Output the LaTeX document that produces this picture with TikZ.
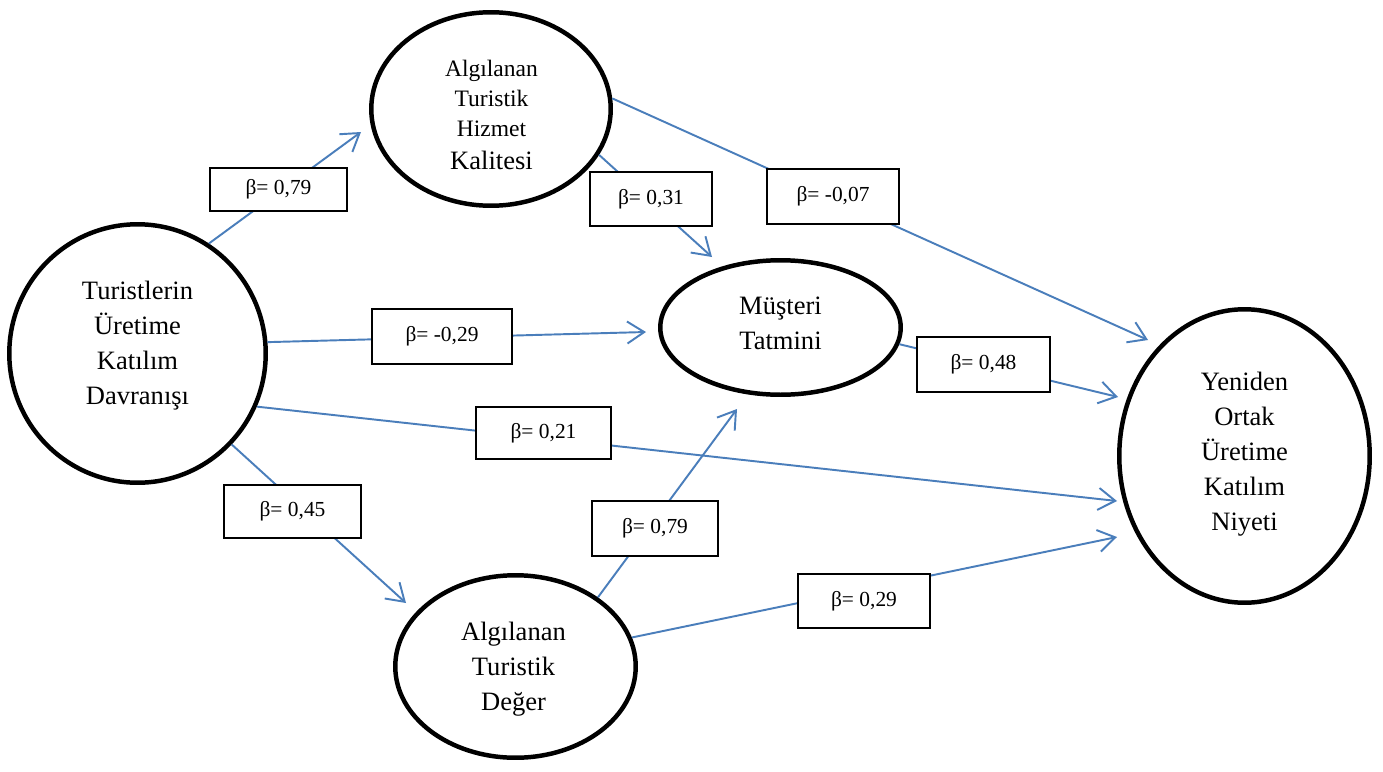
\documentclass[tikz,border=0pt]{standalone}
\usepackage{fontspec}
\setmainfont{Liberation Serif}
\usetikzlibrary{shapes.geometric,arrows.meta}
\definecolor{pathblue}{RGB}{74,126,187}
\begin{document}
\begin{tikzpicture}[x=0.02cm,y=-0.02cm,
  construct/.style={ellipse,draw=black,line width=2.55pt,fill=white,inner sep=0pt},
  ctext/.style={align=center,font=\fontsize{15.1pt}{19.9pt}\selectfont,inner sep=0pt},
  coef/.style={rectangle,draw=black,line width=0.6pt,fill=white,inner sep=0pt,
    font=\fontsize{12.2pt}{14pt}\selectfont},
  effect/.style={draw=pathblue,line width=1.1pt,
    -{Straight Barb[length=0.34cm,width=0.44cm]}}
]
\fill[white] (0,0) rectangle (1383,771);
\useasboundingbox (0,0) rectangle (1383,771);

% latent constructs
\node[construct,minimum width=5.13cm,minimum height=5.17cm] (tur) at (137.5,353.5) {};
\node[construct,minimum width=4.79cm,minimum height=3.87cm] (hiz) at (491,109) {};
\node[construct,minimum width=4.81cm,minimum height=2.69cm] (mus) at (780.5,327.5) {};
\node[construct,minimum width=5.01cm,minimum height=5.87cm] (yen) at (1244.5,456) {};
\node[construct,minimum width=4.81cm,minimum height=3.65cm] (deg) at (515.5,666.5) {};

\node[ctext] (turT) at (137.5,345.5) {Turistlerin\\Üretime\\Katılım\\Davranışı};
\node[ctext,font=\fontsize{13.4pt}{17.3pt}\selectfont] (hizT) at (491.5,115)
  {Algılanan\\Turistik\\Hizmet\\[1.5pt]{\fontsize{15.1pt}{17.3pt}\selectfont Kalitesi}};
\node[ctext] (musT) at (780.5,323.7) {Müşteri\\Tatmini};
\node[ctext] (yenT) at (1244.5,454) {Yeniden\\Ortak\\Üretime\\Katılım\\Niyeti};
\node[ctext] (degT) at (513.5,669) {Algılanan\\Turistik\\Değer};

% arrow tips (free ends)
\coordinate (hizIn)  at (361,132);
\coordinate (musInA) at (712,257);
\coordinate (yenInA) at (1148,340);
\coordinate (musInB) at (646,332);
\coordinate (yenInB) at (1118,397);
\coordinate (yenInC) at (1117,501);
\coordinate (degIn)  at (406,603);
\coordinate (musInC) at (737,409);
\coordinate (yenInD) at (1117,537);

% structural paths
\draw[effect] (tur.57)    -- (hizIn);
\draw[effect] (hiz.-23.8) -- (musInA);
\draw[effect] (hiz.5.2)   -- (yenInA);
\draw[effect] (tur.5.9)   -- (musInB);
\draw[effect] (mus.-8.3)  -- (yenInB);
\draw[effect] (tur.-24.3) -- (yenInC);
\draw[effect] (tur.-44.4) -- (degIn);
\draw[effect] (deg.40)    -- (musInC);
\draw[effect] (deg.14.2)  -- (yenInD);

% path coefficients
\node[coef,minimum width=2.74cm,minimum height=0.86cm] (b1) at (278.5,189.5) {β= 0,79};
\node[coef,minimum width=2.44cm,minimum height=1.08cm] (b2) at (651,199) {β= 0,31};
\node[coef,minimum width=2.64cm,minimum height=1.10cm] (b3) at (833,196.5) {β= -0,07};
\node[coef,minimum width=2.80cm,minimum height=1.10cm] (b4) at (442,336.5) {β= -0,29};
\node[coef,minimum width=2.66cm,minimum height=1.10cm] (b5) at (983.5,364.5) {β= 0,48};
\node[coef,minimum width=2.70cm,minimum height=1.04cm] (b6) at (543.5,433) {β= 0,21};
\node[coef,minimum width=2.74cm,minimum height=1.06cm] (b7) at (292.5,511.5) {β= 0,45};
\node[coef,minimum width=2.52cm,minimum height=1.10cm] (b8) at (655,528.5) {β= 0,79};
\node[coef,minimum width=2.64cm,minimum height=1.08cm] (b9) at (864,601) {β= 0,29};
\end{tikzpicture}
\end{document}
